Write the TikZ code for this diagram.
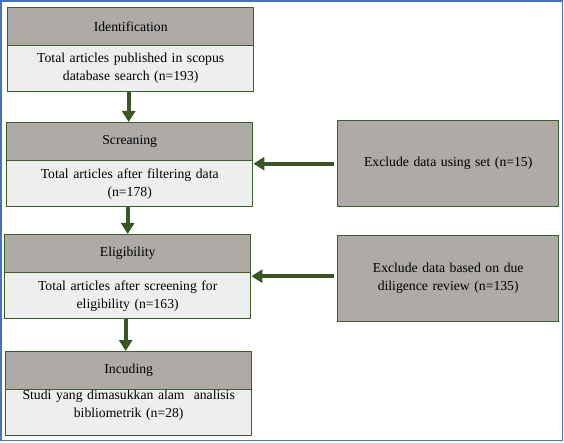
\documentclass[tikz,border=0pt]{standalone}
\usepackage{fontspec}
\setmainfont{Liberation Serif}
\usetikzlibrary{calc}
\usetikzlibrary{arrows.meta}
\definecolor{box-green}{RGB}{62,96,40}
\definecolor{arrow-green}{RGB}{56,87,35}
\definecolor{head-gray}{RGB}{173,170,168}
\definecolor{body-gray}{RGB}{238,238,238}
\definecolor{frame-blue}{RGB}{68,114,196}
\tikzstyle{headbox}=[draw=box-green,fill=head-gray,line width=1.4pt,anchor=north west,minimum width=246pt,minimum height=38pt,inner sep=0pt]
\tikzstyle{bodybox}=[draw=box-green,fill=body-gray,line width=1.4pt,anchor=north west,minimum width=246pt,minimum height=46pt,inner sep=0pt]
\tikzstyle{bodytext}=[align=center,text width=236pt,inner sep=0pt]
\tikzstyle{excludebox}=[draw=box-green,fill=head-gray,line width=1.4pt,anchor=north west,minimum width=221pt,minimum height=86pt,align=center,text width=200pt]
\tikzstyle{flowarrow}=[arrow-green,line width=4.3pt,-{Triangle[width=13pt,length=11pt]}]
\newcommand{\stage}[6][0]{% [text shift] name, left x, top y, header, body
	\node[bodybox] (#2body) at (#3,#4+38) {};
	\node[bodytext] (#2text) at ([yshift=#1]#2body.center) {#6};
	\node[headbox] (#2head) at (#3,#4) {#5};
}

\begin{document}
\begin{tikzpicture}[x=1pt,y=-1pt,font=\fontsize{13.7}{18}\selectfont]
\useasboundingbox (0,0) rectangle (564,443);
% outer frame
\draw[frame-blue,line width=1.5pt] (1,1) rectangle (562.5,440.5);
% stages
\stage{id}{7}{7}{Identification}{Total articles published in scopus\\database search (n=193)}
\stage{scr}{6}{122}{Screaning}{Total articles after filtering data\\(n=178)}
\stage{elig}{4}{234}{Eligibility}{Total articles after screening for\\eligibility (n=163)}
\stage[7]{inc}{5}{351}{Incuding}{Studi yang dimasukkan alam\ \ analisis\\bibliometrik (n=28)}
% exclusion boxes
\node[excludebox] (exclset) at (337,120) {Exclude data using set (n=15)};
\node[excludebox] (excldue) at (337,235) {Exclude data based on due\\diligence review (n=135)};
% arrows down
\draw[flowarrow] ([xshift=-2]idbody.south) -- ([xshift=-2]idbody.south |- scrhead.north);
\draw[flowarrow] ([xshift=-2]scrbody.south) -- ([xshift=-2]scrbody.south |- elighead.north);
\draw[flowarrow] ([xshift=-2]eligbody.south) -- ([xshift=-2]eligbody.south |- inchead.north);
% arrows left
\draw[flowarrow] ([xshift=-3]exclset.west) -- (exclset.west -| scrbody.east);
\draw[flowarrow] ([xshift=-3,yshift=2.5]excldue.west) -- ([yshift=2.5]excldue.west -| eligbody.east);
\end{tikzpicture}
\end{document}
